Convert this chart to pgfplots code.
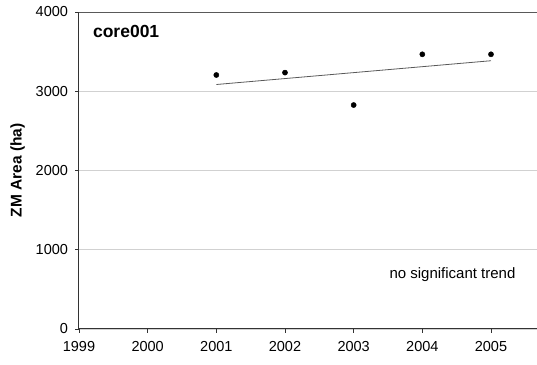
\documentclass[border=0pt]{standalone}
\usepackage{pgfplots}
\pgfplotsset{compat=1.18}
\usepackage{fontspec}
\setmainfont{Liberation Sans}
\setsansfont{Liberation Sans}
\begin{document}
\begin{tikzpicture}
\begin{axis}[
  scale only axis,
  width=458pt, height=317pt,
  xmin=1999, xmax=2005.67,
  ymin=0, ymax=4000,
  axis x line*=bottom,
  axis y line*=left,
  axis line style={draw=black!80, line width=1pt},
  xtick={1999,2000,2001,2002,2003,2004,2005},
  ytick={0,1000,2000,3000},
  extra y ticks={4000},
  extra y tick style={grid=major, major grid style={draw=black!65, line width=0.9pt}},
  ymajorgrids,
  major grid style={draw=black!18, line width=0.8pt},
  tick style={draw=black!80, line width=0.8pt},
  major tick length=4pt,
  xtick align=outside, ytick align=outside,
  /pgf/number format/1000 sep={},
  /pgf/number format/assume math mode=true,
  ticklabel style={font=\fontsize{14.5}{17}\selectfont, text=black},
  xticklabel style={yshift=-4.5pt},
  yticklabel style={xshift=-3.5pt},
  ylabel={\textbf{ZM Area (ha)}},
  ylabel style={font=\fontsize{15.5}{18}\selectfont, at={(axis description cs:-0.134,0.5)}, anchor=center},
  clip=false,
]
\addplot[only marks, mark=*, mark size=2.6pt, black] coordinates {
  (2001,3205) (2002,3235) (2003,2826) (2004,3466) (2005,3466)
};
\addplot[draw=black!65, line width=0.8pt, no marks] coordinates {
  (2001,3085) (2005,3385)
};
\node[anchor=west, font=\fontsize{17.5}{20}\selectfont\bfseries] at (axis description cs:0.023,0.94) {core001};
\node[anchor=center, font=\fontsize{15}{18}\selectfont] at (axis description cs:0.8155,0.173) {no significant trend};
\end{axis}
\pgfresetboundingbox
\path[use as bounding box] ([xshift=-79pt,yshift=-36pt]current axis.south west) rectangle ([yshift=12pt]current axis.north east);
\end{tikzpicture}
\end{document}
